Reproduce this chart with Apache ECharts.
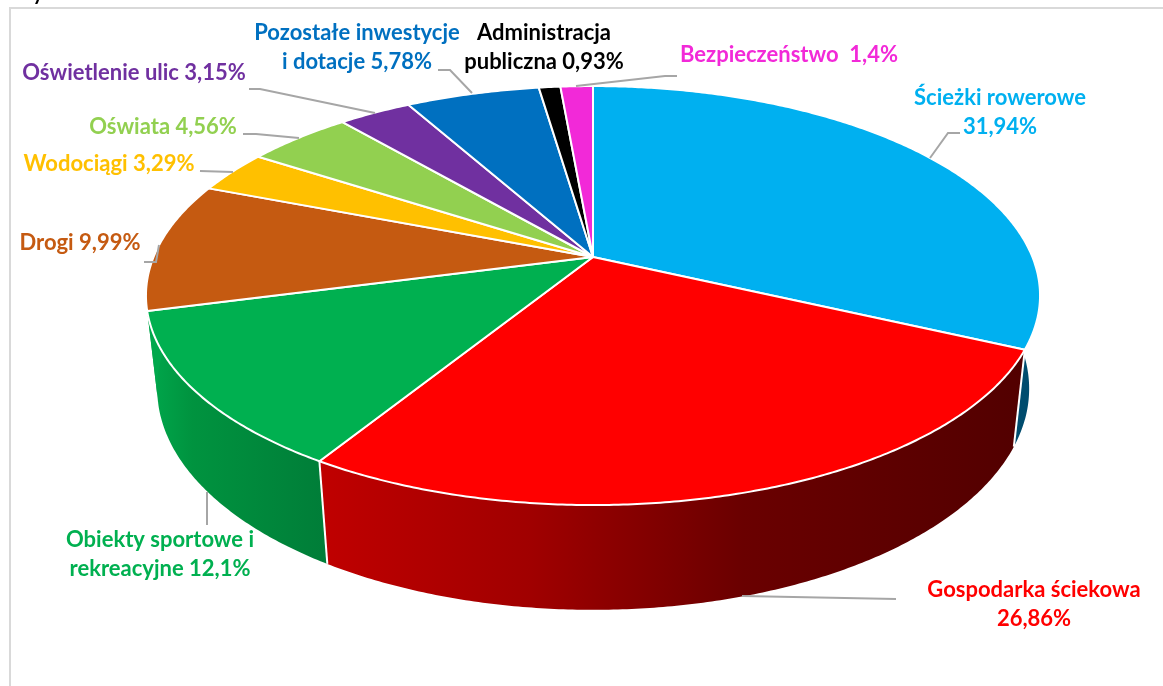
<!DOCTYPE html>
<html>

<head>
    <meta charset="utf-8" />
    <title>Struktura wydatków</title>
    <style type="text/css">
        * {
            margin: 0;
            padding: 0;
        }

        html,
        body {
            width: 100%;
            height: 100%;
            background: #fff;
        }
    </style>
</head>

<body>
    <div id="main" style="width: 1163px;height: 686px;"></div>
    <script type="text/javascript" src="https://cdn.jsdelivr.net/npm/echarts@6/dist/echarts.min.js"></script>
    <script type="text/javascript">
        const categories = ['Ścieżki rowerowe', 'Gospodarka ściekowa', 'Obiekty sportowe i\nrekreacyjne', 'Drogi', 'Wodociągi',
            'Oświata', 'Oświetlenie ulic', 'Pozostałe inwestycje\ni dotacje', 'Administracja\npubliczna', 'Bezpieczeństwo'];
        const values = [31.94, 26.86, 12.1, 9.99, 3.29, 4.56, 3.15, 5.78, 0.93, 1.4];
        const colors = ['#00b0f0', '#ff0000', '#00b050', '#c55a11', '#ffc000', '#92d050', '#7030a0', '#0070c0', '#000000', '#f229d8'];

        // rozmieszczenie etykiet: środek tekstu, separator przed wartością, linia odniesienia
        const labelLayout = [
            { x: 1000, y: 112, sep: '\n', line: [[930, 158], [948, 133], [960, 133]] },
            { x: 1034, y: 604, sep: '\n', line: [[742, 596], [896, 599]] },
            { x: 160, y: 554, sep: ' ', line: [[207, 492], [207, 525]] },
            { x: 80, y: 243, sep: ' ', line: [[144, 262], [156, 262], [159, 245]] },
            { x: 109, y: 164, sep: ' ', line: [[200, 171], [233, 172]] },
            { x: 163, y: 127, sep: ' ', line: [[243, 134], [256, 134], [299, 138]] },
            { x: 134, y: 73, sep: ' ', line: [[249, 89], [260, 89], [375, 113]] },
            { x: 357, y: 47, sep: ' ', line: [[438, 70], [450, 70], [472, 93]] },
            { x: 544, y: 47, sep: ' ', line: null },
            { x: 789, y: 55, sep: '  ', line: [[576, 86], [665, 76], [677, 76]] }
        ];

        // perspektywa tarczy (jak wykres 3D w Excelu)
        const CX = 593, CY = 257, RX = 439.4, RY = 202.4, K = 0.184;
        const VX = 600, VY = 4100, DEPTH = 0.0245;

        function topPoint(deg) {
            const a = deg * Math.PI / 180;
            const u = Math.sin(a), v = -Math.cos(a), w = 1 - K * v;
            return [CX + RX * u / w, CY + RY * v / w, w];
        }

        function bottomPoint(deg) {
            const p = topPoint(deg), w = p[2];
            return [(p[0] * w + DEPTH * VX) / (w + DEPTH), (p[1] * w + DEPTH * VY) / (w + DEPTH)];
        }

        function arc(from, to, fn) {
            const pts = [];
            const n = Math.max(2, Math.ceil((to - from) * 2));
            for (let i = 0; i <= n; i++) {
                pts.push(fn(from + (to - from) * i / n).slice(0, 2));
            }
            return pts;
        }

        const total = values.reduce((a, b) => a + b, 0);
        function sliceAngles(index) {
            let before = 0;
            for (let i = 0; i < index; i++) before += values[i];
            return [before / total * 360, (before + values[index]) / total * 360];
        }

        function sideFill(index) {
            if (index === 0) return '#004c6e';
            if (index === 1) {
                return new echarts.graphic.LinearGradient(0, 0, 1, 0, [
                    { offset: 0, color: '#c00000' },
                    { offset: 0.3, color: '#a00000' },
                    { offset: 0.6, color: '#6a0000' },
                    { offset: 1, color: '#520000' }
                ]);
            }
            if (index === 2) {
                return new echarts.graphic.LinearGradient(0, 0, 1, 0, [
                    { offset: 0, color: '#00a84c' },
                    { offset: 0.25, color: '#00933f' },
                    { offset: 1, color: '#007d38' }
                ]);
            }
            // bok Dróg w oryginale wygląda jak przedłużenie zielonego
            if (index === 3) return '#00a84c';
            return echarts.color.lift(colors[index], -0.3);
        }

        function renderSide(params) {
            const i = params.dataIndex;
            const ang = sliceAngles(i);
            const upper = arc(ang[0], ang[1], topPoint);
            const lower = arc(ang[0], ang[1], bottomPoint).reverse();
            const children = [{
                type: 'polygon',
                z2: 1,
                shape: { points: upper.concat(lower) },
                style: { fill: sideFill(i) }
            }];
            // białe szwy tylko tam, gdzie bok jest widoczny
            if (i <= 1) {
                children.push({
                    type: 'polyline',
                    z2: 2,
                    shape: { points: [topPoint(ang[1]).slice(0, 2), bottomPoint(ang[1])] },
                    style: { stroke: '#fff', lineWidth: 2, fill: null }
                });
            }
            return { type: 'group', children: children };
        }

        function renderTop(params) {
            const ang = sliceAngles(params.dataIndex);
            const pts = [[CX, CY]].concat(arc(ang[0], ang[1], topPoint));
            return {
                type: 'polygon',
                shape: { points: pts },
                style: { fill: colors[params.dataIndex], stroke: '#fff', lineWidth: 2, lineJoin: 'round' }
            };
        }

        const graphics = [
            { type: 'polyline', shape: { points: [[10, 686], [10, 8], [1163, 8]] }, style: { stroke: '#d9d9d9', lineWidth: 2, fill: null } },
            // ucięta litera z tekstu nad wykresem
            { type: 'text', x: 38, y: -6, style: { text: 'y', fill: '#000', font: 'bold 20px Lato', align: 'center', verticalAlign: 'middle' } }
        ];
        categories.forEach((name, i) => {
            const lay = labelLayout[i];
            if (lay.line) {
                graphics.push({
                    type: 'polyline', z: 5, shape: { points: lay.line },
                    style: { stroke: '#a6a6a6', lineWidth: 2, fill: null }
                });
            }
            graphics.push({
                type: 'text', z: 6, x: lay.x, y: lay.y,
                style: {
                    text: name + lay.sep + String(values[i]).replace('.', ',') + '%',
                    fill: colors[i],
                    font: 'bold 22px Lato',
                    lineHeight: 29,
                    align: 'center',
                    verticalAlign: 'middle'
                }
            });
        });

        const myChart = echarts.init(document.getElementById('main'));
        myChart.setOption({
            animation: false,
            graphic: graphics,
            series: [
                { type: 'custom', coordinateSystem: 'none', z: 2, renderItem: renderSide, data: values, silent: true },
                { type: 'custom', coordinateSystem: 'none', z: 3, renderItem: renderTop, data: values, silent: true }
            ]
        });
    </script>
</body>

</html>
